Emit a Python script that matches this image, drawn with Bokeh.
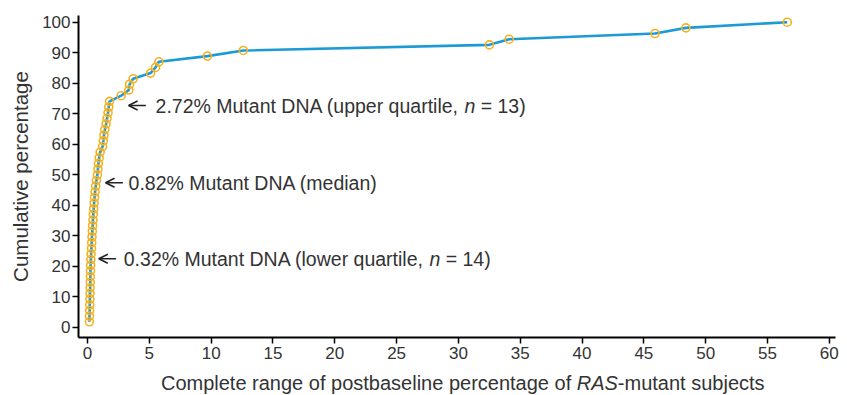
from bokeh.plotting import figure
from bokeh.layouts import column
from bokeh.models import Label, Arrow, OpenHead, FixedTicker, ColumnDataSource
from bokeh.core.properties import value
from bokeh.embed import file_html
from bokeh.resources import INLINE

# ---- data ----
mutant_pct = [0.15, 0.16, 0.17, 0.18, 0.19, 0.20, 0.21, 0.22, 0.23, 0.24,
              0.25, 0.27, 0.29, 0.32, 0.34, 0.36, 0.39, 0.41, 0.44, 0.47,
              0.50, 0.53, 0.57, 0.61, 0.66, 0.72, 0.80, 0.84, 0.88, 0.94,
              1.02, 1.22, 1.28, 1.33, 1.40, 1.50, 1.58, 1.66, 1.72, 1.78,
              2.72, 3.34, 3.40, 3.69, 5.10, 5.50, 5.77, 9.70, 12.60, 32.50,
              34.10, 45.90, 48.40, 56.60]
cum_pct = [1.85, 3.70, 5.56, 7.41, 9.26, 11.11, 12.96, 14.81, 16.67, 18.52,
           20.37, 22.22, 24.07, 25.93, 27.78, 29.63, 31.48, 33.33, 35.19, 37.04,
           38.89, 40.74, 42.59, 44.44, 46.30, 48.15, 50.00, 51.85, 53.70, 55.56,
           57.41, 59.26, 61.11, 62.96, 64.81, 66.67, 68.52, 70.37, 72.22, 74.07,
           75.93, 77.78, 79.63, 81.48, 83.33, 85.19, 87.04, 88.89, 90.74, 92.59,
           94.44, 96.30, 98.15, 100.00]
x_ticks = [0, 5, 10, 15, 20, 25, 30, 35, 40, 45, 50, 55, 60]
y_ticks = [0, 10, 20, 30, 40, 50, 60, 70, 80, 90, 100]

ann_prefix = ["2.72% Mutant DNA (upper quartile, ", "0.82% Mutant DNA (median)",
              "0.32% Mutant DNA (lower quartile, "]
ann_n = ["13", None, "14"]
ann_tip_x = [3.32, 1.46, 0.91]
ann_tip_y = [72.7, 47.4, 22.5]

x_label_parts = ["Complete range of postbaseline percentage of ", "RAS", "-mutant subjects"]
y_label = "Cumulative percentage"

FONT = "Liberation Sans"
TXT = "#333333"
LINE_C = "#1c9ad6"
MARK_C = "#f4b223"

src = ColumnDataSource(dict(x=mutant_pct, y=cum_pct))

p = figure(width=847, height=368, x_range=(-0.73, 60.5), y_range=(-3.3, 102.2),
           output_backend="svg", toolbar_location=None,
           min_border_left=78, min_border_right=12, min_border_top=15, min_border_bottom=31)
p.outline_line_color = None
p.grid.grid_line_color = None
p.background_fill_color = "white"

p.line("x", "y", source=src, line_color=LINE_C, line_width=2.6)
p.scatter("x", "y", source=src, size=8, fill_color=None, line_color=MARK_C, line_width=1.6)

for ax, ticks in ((p.xaxis, x_ticks), (p.yaxis, y_ticks)):
    ax.ticker = FixedTicker(ticks=ticks)
    ax.axis_line_width = 2
    ax.axis_line_color = "black"
    ax.major_tick_line_width = 1.5
    ax.major_tick_line_color = "black"
    ax.major_tick_in = 0
    ax.major_tick_out = 6
    ax.minor_tick_in = 0
    ax.minor_tick_out = 0
    ax.major_label_text_font = FONT
    ax.major_label_text_font_size = "17px"
    ax.major_label_text_color = TXT

p.xaxis.major_label_standoff = 3
p.yaxis.major_label_standoff = 2
p.yaxis.axis_label = y_label
p.yaxis.axis_label_text_font = FONT
p.yaxis.axis_label_text_font_size = "20.5px"
p.yaxis.axis_label_text_font_style = "normal"
p.yaxis.axis_label_text_color = TXT
p.yaxis.axis_label_standoff = 7

# annotations
fs = 19.5
start_off = [27, 23, 25]
prefix_em = [15.84, None, 15.672]
for i in range(3):
    tx, ty = ann_tip_x[i], ann_tip_y[i]
    p.add_layout(Arrow(end=OpenHead(size=9, line_width=1.6, line_color="#222222"),
                       x_start=tx + 1.4, y_start=ty, x_end=tx, y_end=ty,
                       line_width=1.6, line_color="#222222"))
    p.add_layout(Label(x=tx, y=ty, x_offset=start_off[i], text=ann_prefix[i],
                       text_font=FONT, text_font_size=f"{fs}px", text_color=TXT,
                       text_baseline="middle"))
    if ann_n[i] is not None:
        o = start_off[i] + prefix_em[i] * fs
        p.add_layout(Label(x=tx, y=ty, x_offset=o, text="n", text_font=FONT,
                           text_font_size=f"{fs}px", text_color=TXT, text_font_style="italic",
                           text_baseline="middle"))
        p.add_layout(Label(x=tx, y=ty, x_offset=o + (0.556 + 0.278) * fs, text="= " + ann_n[i] + ")",
                           text_font=FONT, text_font_size=f"{fs}px", text_color=TXT,
                           text_baseline="middle"))

# x-axis title strip (mixed upright / italic text)
p2 = figure(width=847, height=27, x_range=p.x_range, y_range=(0, 1),
            output_backend="svg", toolbar_location=None,
            min_border_left=78, min_border_right=12, min_border_top=0, min_border_bottom=0)
p2.axis.visible = False
p2.grid.grid_line_color = None
p2.outline_line_color = None
xfs = 20
em_widths = [20.789, 2.056, 7.336]
total = sum(em_widths) * xfs
xc = 30.35
off = -total / 2
for txt, w in zip(x_label_parts, em_widths):
    p2.text(x=[xc], y=[0.45], text=[txt], x_offset=off, text_font=value(FONT),
            text_font_size=f"{xfs}px", text_color=TXT, text_baseline="middle",
            text_align="left", text_font_style="italic" if txt == "RAS" else "normal")
    off += w * xfs

layout = column(p, p2, spacing=0)
open("out.html", "w").write(file_html(layout, INLINE))
